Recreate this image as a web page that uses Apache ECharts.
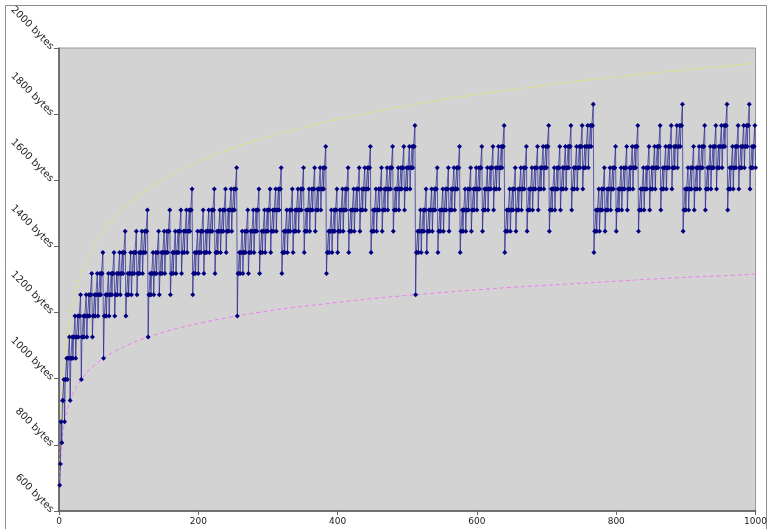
<!DOCTYPE html>
<html>
<head>
<meta charset="utf-8">
<script src="https://cdn.jsdelivr.net/npm/echarts@6/dist/echarts.min.js"></script>
<style>
  html, body { margin: 0; padding: 0; background: #fff; }
  #chart { width: 770px; height: 529px; }
</style>
</head>
<body>
<div id="chart"></div>
<script>
// size in bytes for n = 1 .. 1000 (levels step 64 bytes)
const sizeBytes = [
  678,742,870,806,934,934,998,870,998,998,1062,998,1062,1062,1126,
  934,1062,1062,1126,1062,1126,1126,1190,1062,1126,1126,1190,1126,1190,1190,1254,
  998,1126,1126,1190,1126,1190,1190,1254,1126,1190,1190,1254,1190,1254,1254,1318,
  1126,1190,1190,1254,1190,1254,1254,1318,1190,1254,1254,1318,1254,1318,1318,1382,
  1062,1190,1190,1254,1190,1254,1254,1318,1190,1254,1254,1318,1254,1318,1318,1382,
  1190,1254,1254,1318,1254,1318,1318,1382,1254,1318,1318,1382,1318,1382,1382,1446,
  1190,1254,1254,1318,1254,1318,1318,1382,1254,1318,1318,1382,1318,1382,1382,1446,
  1254,1318,1318,1382,1318,1382,1382,1446,1318,1382,1382,1446,1382,1446,1446,1510,
  1126,1254,1254,1318,1254,1318,1318,1382,1254,1318,1318,1382,1318,1382,1382,1446,
  1254,1318,1318,1382,1318,1382,1382,1446,1318,1382,1382,1446,1382,1446,1446,1510,
  1254,1318,1318,1382,1318,1382,1382,1446,1318,1382,1382,1446,1382,1446,1446,1510,
  1318,1382,1382,1446,1382,1446,1446,1510,1382,1446,1446,1510,1446,1510,1510,1574,
  1254,1318,1318,1382,1318,1382,1382,1446,1318,1382,1382,1446,1382,1446,1446,1510,
  1318,1382,1382,1446,1382,1446,1446,1510,1382,1446,1446,1510,1446,1510,1510,1574,
  1318,1382,1382,1446,1382,1446,1446,1510,1382,1446,1446,1510,1446,1510,1510,1574,
  1382,1446,1446,1510,1446,1510,1510,1574,1446,1510,1510,1574,1510,1574,1574,1638,
  1190,1318,1318,1382,1318,1382,1382,1446,1318,1382,1382,1446,1382,1446,1446,1510,
  1318,1382,1382,1446,1382,1446,1446,1510,1382,1446,1446,1510,1446,1510,1510,1574,
  1318,1382,1382,1446,1382,1446,1446,1510,1382,1446,1446,1510,1446,1510,1510,1574,
  1382,1446,1446,1510,1446,1510,1510,1574,1446,1510,1510,1574,1510,1574,1574,1638,
  1318,1382,1382,1446,1382,1446,1446,1510,1382,1446,1446,1510,1446,1510,1510,1574,
  1382,1446,1446,1510,1446,1510,1510,1574,1446,1510,1510,1574,1510,1574,1574,1638,
  1382,1446,1446,1510,1446,1510,1510,1574,1446,1510,1510,1574,1510,1574,1574,1638,
  1446,1510,1510,1574,1510,1574,1574,1638,1510,1574,1574,1638,1574,1638,1638,1702,
  1318,1382,1382,1446,1382,1446,1446,1510,1382,1446,1446,1510,1446,1510,1510,1574,
  1382,1446,1446,1510,1446,1510,1510,1574,1446,1510,1510,1574,1510,1574,1574,1638,
  1382,1446,1446,1510,1446,1510,1510,1574,1446,1510,1510,1574,1510,1574,1574,1638,
  1446,1510,1510,1574,1510,1574,1574,1638,1510,1574,1574,1638,1574,1638,1638,1702,
  1382,1446,1446,1510,1446,1510,1510,1574,1446,1510,1510,1574,1510,1574,1574,1638,
  1446,1510,1510,1574,1510,1574,1574,1638,1510,1574,1574,1638,1574,1638,1638,1702,
  1446,1510,1510,1574,1510,1574,1574,1638,1510,1574,1574,1638,1574,1638,1638,1702,
  1510,1574,1574,1638,1574,1638,1638,1702,1574,1638,1638,1702,1638,1702,1702,1766,
  1254,1382,1382,1446,1382,1446,1446,1510,1382,1446,1446,1510,1446,1510,1510,1574,
  1382,1446,1446,1510,1446,1510,1510,1574,1446,1510,1510,1574,1510,1574,1574,1638,
  1382,1446,1446,1510,1446,1510,1510,1574,1446,1510,1510,1574,1510,1574,1574,1638,
  1446,1510,1510,1574,1510,1574,1574,1638,1510,1574,1574,1638,1574,1638,1638,1702,
  1382,1446,1446,1510,1446,1510,1510,1574,1446,1510,1510,1574,1510,1574,1574,1638,
  1446,1510,1510,1574,1510,1574,1574,1638,1510,1574,1574,1638,1574,1638,1638,1702,
  1446,1510,1510,1574,1510,1574,1574,1638,1510,1574,1574,1638,1574,1638,1638,1702,
  1510,1574,1574,1638,1574,1638,1638,1702,1574,1638,1638,1702,1638,1702,1702,1766,
  1382,1446,1446,1510,1446,1510,1510,1574,1446,1510,1510,1574,1510,1574,1574,1638,
  1446,1510,1510,1574,1510,1574,1574,1638,1510,1574,1574,1638,1574,1638,1638,1702,
  1446,1510,1510,1574,1510,1574,1574,1638,1510,1574,1574,1638,1574,1638,1638,1702,
  1510,1574,1574,1638,1574,1638,1638,1702,1574,1638,1638,1702,1638,1702,1702,1766,
  1446,1510,1510,1574,1510,1574,1574,1638,1510,1574,1574,1638,1574,1638,1638,1702,
  1510,1574,1574,1638,1574,1638,1638,1702,1574,1638,1638,1702,1638,1702,1702,1766,
  1510,1574,1574,1638,1574,1638,1638,1702,1574,1638,1638,1702,1638,1702,1702,1766,
  1574,1638,1638,1702,1638,1702,1702,1766,1638,1702,1702,1766,1702,1766,1766,1830,
  1382,1446,1446,1510,1446,1510,1510,1574,1446,1510,1510,1574,1510,1574,1574,1638,
  1446,1510,1510,1574,1510,1574,1574,1638,1510,1574,1574,1638,1574,1638,1638,1702,
  1446,1510,1510,1574,1510,1574,1574,1638,1510,1574,1574,1638,1574,1638,1638,1702,
  1510,1574,1574,1638,1574,1638,1638,1702,1574,1638,1638,1702,1638,1702,1702,1766,
  1446,1510,1510,1574,1510,1574,1574,1638,1510,1574,1574,1638,1574,1638,1638,1702,
  1510,1574,1574,1638,1574,1638,1638,1702,1574,1638,1638,1702,1638,1702,1702,1766,
  1510,1574,1574,1638,1574,1638,1638,1702,1574,1638,1638,1702,1638,1702,1702,1766,
  1574,1638,1638,1702,1638,1702,1702,1766,1638,1702,1702,1766,1702,1766,1766,1830,
  1446,1510,1510,1574,1510,1574,1574,1638,1510,1574,1574,1638,1574,1638,1638,1702,
  1510,1574,1574,1638,1574,1638,1638,1702,1574,1638,1638,1702,1638,1702,1702,1766,
  1510,1574,1574,1638,1574,1638,1638,1702,1574,1638,1638,1702,1638,1702,1702,1766,
  1574,1638,1638,1702,1638,1702,1702,1766,1638,1702,1702,1766,1702,1766,1766,1830,
  1510,1574,1574,1638,1574,1638,1638,1702,1574,1638,1638,1702,1638,1702,1702,1766,
  1574,1638,1638,1702,1638,1702,1702,1766,1638,1702,1702,1766,1702,1766,1766,1830,
  1574,1638,1638,1702,1638,1702,1702,1766,1638
];

// dashed guide curves
const guideN = [1,2,3,4,5,6,7,8,10,12,14,16,20,24,28,32,40,48,56,64,80,96,112,128,
  160,192,224,256,320,384,448,512,576,640,704,768,832,896,960,1000];
const upperCurve = [678,806,881,934,975,1009,1037,1062,1103,1137,1165,1190,1231,1265,1293,1318,
  1359,1393,1421,1446,1487,1521,1549,1574,1615,1649,1677,1702,1743,1777,1805,1830,
  1852,1871,1889,1905,1920,1933,1946,1954];
const lowerCurve = [678,742,779,806,827,843,858,870,891,907,922,934,955,971,986,998,
  1019,1035,1050,1062,1083,1099,1114,1126,1147,1163,1178,1190,1211,1227,1242,1254,
  1265,1275,1283,1291,1299,1306,1312,1316];

const xTicks = [0, 200, 400, 600, 800, 1000];
const yTicks = [600, 800, 1000, 1200, 1400, 1600, 1800, 2000];

let myChart = echarts.init(document.getElementById('chart'));
let option = {
    animation: false,
    backgroundColor: '#fff',
    textStyle: { fontFamily: 'DejaVu Sans' },
    graphic: [{
        type: 'rect',
        shape: { x: 5.5, y: 5.5, width: 761, height: 540 },
        style: { fill: 'none', stroke: '#8c8c8c', lineWidth: 1 },
        silent: true
    }],
    grid: {
        left: 59, top: 48, width: 698, height: 463,
        show: true,
        backgroundColor: '#d3d3d3',
        borderColor: '#9a9a9a',
        borderWidth: 1
    },
    xAxis: {
        type: 'value',
        min: xTicks[0],
        max: xTicks[xTicks.length - 1],
        interval: 200,
        axisLine: { lineStyle: { color: '#555', width: 1.5 } },
        axisTick: { show: true, length: 4, lineStyle: { color: '#666' } },
        axisLabel: {
            color: '#222', fontSize: 9, margin: 6,
            formatter: function (v) { return String(v); }
        },
        splitLine: { show: false }
    },
    yAxis: {
        type: 'value',
        min: yTicks[0],
        max: yTicks[yTicks.length - 1],
        interval: 200,
        axisLine: { show: true, lineStyle: { color: '#555', width: 1.5 } },
        axisTick: { show: true, length: 5, lineStyle: { color: '#666' } },
        axisLabel: {
            color: '#222', fontSize: 10, rotate: -45, margin: 7,
            formatter: function (v) { return v + ' bytes'; }
        },
        splitLine: { show: false }
    },
    series: [
        {
            name: 'upper',
            type: 'line',
            data: guideN.map((n, i) => [n, upperCurve[i]]),
            showSymbol: false,
            smooth: 0.3,
            lineStyle: { color: '#e6e650', width: 1, type: [3, 3] },
            z: 2
        },
        {
            name: 'lower',
            type: 'line',
            data: guideN.map((n, i) => [n, lowerCurve[i]]),
            showSymbol: false,
            smooth: 0.3,
            lineStyle: { color: '#ee7ff0', width: 1, type: [4, 3] },
            z: 2
        },
        {
            name: 'size',
            type: 'line',
            data: sizeBytes.map((v, i) => [i + 1, v]),
            symbol: 'diamond',
            symbolSize: 5,
            showAllSymbol: true,
            itemStyle: { color: '#000080' },
            lineStyle: { color: '#1a1a8c', width: 1, opacity: 0.65 },
            z: 3
        }
    ]
};
myChart.setOption(option, true);
window.addEventListener("resize", function () {
    myChart.resize();
});
</script>
</body>
</html>
